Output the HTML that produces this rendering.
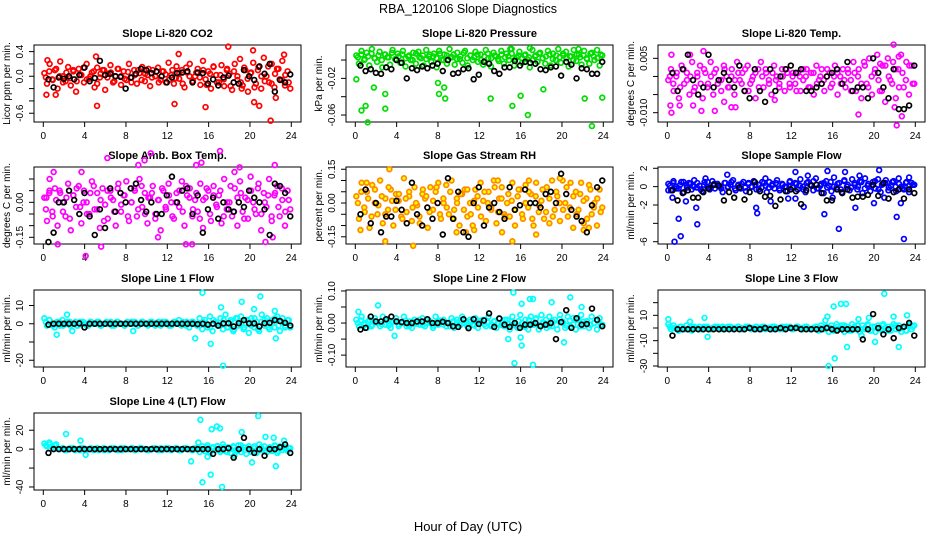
<!DOCTYPE html>
<html><head><meta charset="utf-8"><style>
html,body{margin:0;padding:0;background:#fff}
svg{display:block;font-family:"Liberation Sans",Arial,sans-serif}
</style></head><body>
<svg id="chart" width="936" height="540" viewBox="0 0 936 540" xmlns="http://www.w3.org/2000/svg">
<rect width="936" height="540" fill="#fff"/>
<text x="468" y="13" text-anchor="middle" font-size="12.5">RBA_120106  Slope Diagnostics</text>
<text x="468" y="531" text-anchor="middle" font-size="13">Hour of Day (UTC)</text>
</svg>
<script>
const xTicks=[0,4,8,12,16,20,24];
const panelTitles=["Slope Li-820 CO2","Slope Li-820 Pressure","Slope Li-820 Temp.","Slope Amb. Box Temp.","Slope Gas Stream RH","Slope Sample Flow","Slope Line 1 Flow","Slope Line 2 Flow","Slope Line 3 Flow","Slope Line 4 (LT) Flow"];

const co2Cloud=[0.05,-0.12,0.2,-0.05,0.1,-0.2,0.24,0.0,-0.08,0.15,-0.15,0.08,-0.25,0.12,0.02,-0.1,0.2,-0.04,0.06,-0.18,0.14,-0.02,0.1,-0.22,0.04,0.18,-0.1,0.0,0.12,-0.14,0.08,-0.06,0.2,-0.02,0.1,-0.12,0.05,0.15,-0.08,0.02,-0.16,0.1,0.0,0.14,-0.06,0.08,-0.1,0.22,0.02,-0.12,0.16,-0.04,0.1,-0.18,0.06,0.2,-0.08,0.0,0.12,-0.14,0.25,-0.05,0.08,-0.2,0.15,0.02,-0.1,0.18,-0.16,0.1,0.04,-0.22,0.2,-0.06,0.28,-0.15,0.1,-0.25,0.05,0.22,-0.12,0.15,-0.2,0.3,0.0,-0.1,0.2,-0.18,0.12,-0.05,0.25,-0.15,0.08,-0.2];
const co2Cloud2=[-0.02,0.08,-0.06,0.12,0.0,-0.1,0.06,-0.03,0.1,-0.08,0.03,0.14,-0.05,0.0,0.08,-0.12,0.04,0.1,-0.02,0.06,-0.08,0.12,0.0,-0.04,0.07,-0.1,0.02,0.1,-0.06,0.04,0.12,-0.02,0.0,-0.1,0.08,0.03,-0.06,0.1,-0.03,0.05,-0.12,0.14,0.0,-0.08,0.06,-0.02,0.1,-0.14,0.04,0.16,-0.1,0.02,-0.05,0.12,-0.16,0.08,0.0,-0.1,0.14,-0.04,0.06,-0.18,0.1,0.0,-0.08,0.16,-0.12,0.04,0.12,-0.06,0.02,-0.1];
const co2Out=[[0.3,-0.3],[0.4,0.26],[1.2,-0.3],[5.1,0.32],[5.2,-0.48],[12.7,-0.45],[13.1,0.36],[15.7,-0.5],[17.9,0.48],[20.3,0.42],[20.4,-0.42],[20.9,-0.48],[22.0,-0.72],[23.3,0.35],[19.2,-0.2],[22.5,-0.35]];
const co2Black=[-0.05,-0.18,-0.02,-0.04,0.0,-0.05,0.02,0.14,-0.08,-0.03,0.25,0.02,0.04,0.0,-0.01,-0.2,-0.02,0.04,0.12,0.1,0.05,0.08,0.0,-0.1,-0.02,0.05,0.06,0.08,-0.1,0.06,0.05,-0.12,-0.05,-0.15,-0.02,0.01,-0.1,-0.12,0.1,0.0,-0.06,0.16,0.04,0.2,-0.25,-0.06,-0.1,0.03];

const presCloud=[0.005,-0.004,0.01,0.0,0.008,-0.006,0.012,0.002,-0.002,0.009,-0.008,0.006,0.003,-0.005,0.011,0.001,0.007,-0.003,0.01,-0.007,0.004,0.0,0.008,-0.004,0.009,0.002,-0.006,0.011,0.004,-0.002,0.007,-0.008,0.01,0.0,0.006,-0.004,0.012,0.003,-0.005,0.008,0.001,-0.003,0.01,-0.006,0.005,0.0,0.009,-0.002,0.006,-0.005,0.011,0.002,-0.007,0.008,0.004,-0.001,0.01,-0.004,0.007,0.0,0.012,-0.006,0.003,0.009,-0.003,0.005,0.001,-0.008,0.011,0.004,-0.002,0.008,0.002,-0.004,0.01,-0.006,0.007,0.0,0.012,-0.003,0.005,0.009,-0.007,0.004,0.011,-0.001,0.006,-0.005,0.01,0.002,-0.004,0.008,0.0,0.011,-0.006,0.005];
const presCloud2=[0.003,0.006,0.001,0.004,0.007,0.002,0.005,0.0,0.006,0.003,0.008,0.001,0.004,0.006,0.002,0.005,0.0,0.007,0.003,0.005,0.001,0.006,0.004,0.002,0.007,0.0,0.005,0.003,0.006,0.001,0.004,0.008,0.002,0.005,0.003,0.006,0.0,0.004,0.007,0.002,0.005,0.001,0.006,0.003,0.004,0.007,0.001,0.005,0.002,0.006,0.003,0.0,0.005,0.007,0.002,0.004,0.006,0.001,0.005,0.003,0.007,0.002,0.004,0.0,0.006,0.003,0.005,0.001,0.007,0.004,0.002,0.006];
const presOut=[[0.1,-0.021],[0.6,-0.055],[1.0,-0.05],[1.2,-0.068],[1.8,-0.03],[2.9,-0.037],[2.9,-0.053],[8.0,-0.025],[8.1,-0.037],[8.6,-0.03],[8.7,-0.042],[13.1,-0.042],[15.2,-0.05],[16.0,-0.039],[16.7,-0.06],[18.2,-0.032],[22.2,-0.042],[22.9,-0.072],[23.9,-0.041],[16.9,0.013],[15.0,0.012],[21.6,0.012]];
const presBlack=[-0.006,-0.012,-0.01,-0.014,-0.015,-0.008,-0.01,0.0,-0.003,-0.02,-0.009,-0.011,-0.007,-0.009,-0.006,-0.004,-0.012,0.0,-0.015,-0.014,-0.01,-0.009,-0.021,-0.016,-0.002,-0.004,-0.012,-0.015,-0.008,-0.008,-0.001,-0.006,-0.002,-0.003,-0.004,-0.01,-0.011,-0.008,-0.007,-0.017,-0.002,-0.005,-0.02,-0.009,-0.01,-0.015,-0.015,-0.002];

const tempCloud=[-0.001,0.002,-0.004,0.0,-0.006,0.003,-0.002,0.001,-0.005,0.004,-0.003,0.0,0.003,-0.006,0.001,-0.002,0.004,-0.005,0.002,-0.001,-0.004,0.003,0.0,-0.003,0.002,-0.005,0.004,-0.001,0.001,-0.004,0.003,-0.002,0.0,-0.006,0.002,0.004,-0.003,0.001,-0.001,-0.005,0.003,0.0,-0.002,0.002,-0.004,0.001,-0.003,0.0,-0.002,0.001,-0.004,0.002,0.0,-0.003,0.001,-0.005,0.003,-0.001,0.002,-0.004,0.0,0.001,-0.002,0.003,-0.005,0.0,0.002,-0.003,0.001,-0.001,0.004,-0.004,0.002,-0.006,0.004,-0.002,0.005,-0.005,0.001,0.006,-0.004,0.003,-0.007,0.005,-0.001,0.004,-0.006,0.002,0.006,-0.003,0.004,-0.005,0.003,-0.002];
const tempCloud2=[0.0,-0.002,0.001,-0.003,0.002,-0.001,0.0,-0.004,0.001,-0.002,0.002,-0.003,0.0,0.001,-0.002,-0.001,0.002,-0.003,0.0,-0.001,0.001,-0.002,0.002,-0.004,-0.001,0.001,-0.003,0.0,0.002,-0.002,0.001,-0.001,-0.003,0.0,0.002,-0.002,0.001,-0.004,0.0,-0.001,0.002,-0.003,0.001,-0.002,0.0,-0.001,0.002,-0.003,0.0,0.001,-0.002,-0.001,0.002,-0.004,0.001,0.0,-0.002,0.003,-0.003,0.0,0.002,-0.001,-0.004,0.003,0.0,-0.002,0.002,-0.003,0.001,-0.001,0.003,-0.002];
const tempOut=[[0.4,0.006],[2.2,0.006],[3.5,0.007],[0.3,-0.008],[0.4,-0.01],[1.2,-0.008],[2.5,-0.008],[3.3,-0.0095],[4.6,-0.0095],[6.2,-0.0085],[6.6,-0.0085],[18.5,-0.0105],[20.6,0.0035],[21.9,0.0088],[22.2,-0.0135],[22.4,0.0055],[22.7,-0.011],[22.0,-0.0085],[5.5,-0.007],[10.4,-0.0065]];
const tempBlack=[0.001,-0.004,0.002,0.006,-0.001,-0.005,-0.003,0.006,-0.003,-0.001,0.001,-0.001,-0.003,0.003,-0.004,-0.006,0.002,-0.004,-0.007,0.002,-0.004,0.0,0.002,0.003,0.001,0.002,-0.004,-0.004,-0.003,-0.002,0.0,0.001,0.002,-0.002,0.004,-0.004,-0.003,-0.003,-0.006,0.005,0.001,-0.003,-0.006,0.002,-0.009,-0.009,-0.008,0.003];

const ambCloud=[0.02,-0.08,0.1,-0.04,0.06,-0.1,0.04,0.0,-0.06,0.08,-0.12,0.03,-0.02,0.07,-0.09,0.05,0.0,-0.05,0.09,-0.03,0.04,-0.11,0.06,-0.01,-0.07,0.05,0.01,-0.1,0.08,-0.04,0.03,0.09,-0.08,0.0,0.06,-0.06,0.1,-0.02,0.04,-0.09,0.02,0.07,-0.05,0.01,-0.12,0.05,-0.03,0.08,0.0,-0.07,0.04,-0.02,0.09,-0.1,0.03,0.06,-0.06,0.01,-0.04,0.08,-0.11,0.02,0.05,-0.08,0.07,-0.01,0.03,-0.09,0.1,-0.03,0.0,-0.06,0.06,-0.1,0.09,-0.04,0.02,-0.07,0.11,0.0,-0.05,0.08,-0.12,0.04,-0.02,0.1,-0.08,0.03,0.07,-0.06,0.01,-0.1,0.05,-0.03];
const ambCloud2=[-0.03,0.04,-0.06,0.01,0.05,-0.04,0.02,-0.07,0.03,0.06,-0.02,0.0,-0.05,0.04,0.07,-0.03,0.01,-0.08,0.05,0.02,-0.04,0.06,-0.01,0.03,-0.06,0.0,0.05,-0.03,0.07,-0.05,0.02,0.04,-0.07,0.01,0.06,-0.02,0.03,-0.06,0.0,0.05,-0.04,0.07,0.02,-0.03,0.04,-0.07,0.01,0.06,-0.05,0.03,-0.02,0.05,-0.06,0.0,0.07,-0.04,0.02,0.04,-0.07,0.01,0.05,-0.03,0.06,-0.05,0.0,0.03,-0.06,0.04,-0.02,0.06,-0.04,0.01];
const ambOut=[[0.3,0.02],[0.6,0.05],[1.0,0.13],[1.4,-0.18],[3.7,0.13],[4.1,-0.23],[5.6,-0.19],[6.2,0.19],[9.2,0.16],[9.8,0.18],[10.4,0.21],[11.1,-0.15],[14.8,0.16],[15.3,0.17],[17.1,0.22],[18.5,0.13],[19.0,0.15],[21.5,-0.17],[22.4,0.16],[22.2,-0.15],[13.8,-0.18],[14.4,-0.18]];
const ambBlack=[-0.17,-0.13,0.0,0.0,0.05,0.01,-0.05,0.04,-0.06,-0.14,-0.03,-0.11,0.06,-0.04,0.04,0.0,0.06,0.08,0.01,-0.04,0.0,-0.05,-0.05,0.03,0.11,0.0,0.05,0.06,-0.05,0.03,-0.13,-0.03,0.02,-0.07,0.0,-0.03,-0.04,0.0,-0.02,0.05,0.02,0.0,-0.03,-0.14,0.08,0.07,0.04,-0.06];

const rhCloud=[0.03,-0.07,0.09,-0.02,0.05,-0.11,0.08,0.0,-0.05,0.1,-0.09,0.02,-0.03,0.06,-0.1,0.04,0.01,-0.06,0.11,-0.04,0.03,-0.08,0.07,-0.01,-0.09,0.04,0.02,-0.11,0.07,-0.03,0.05,0.09,-0.07,0.0,0.08,-0.05,0.1,-0.03,0.02,-0.1,0.04,0.06,-0.06,0.0,-0.1,0.06,-0.02,0.09,0.01,-0.08,0.05,-0.03,0.1,-0.09,0.02,0.07,-0.05,0.0,-0.06,0.09,-0.1,0.03,0.06,-0.07,0.08,-0.02,0.04,-0.1,0.09,-0.04,0.01,-0.07,0.07,-0.09,0.1,-0.03,0.03,-0.08,0.1,0.0,-0.06,0.09,-0.11,0.05,-0.03,0.09,-0.09,0.02,0.08,-0.05,0.0,-0.1,0.06,-0.02];
const rhCloud2=[0.0,0.05,-0.04,0.02,-0.06,0.06,-0.01,0.03,-0.05,0.07,0.01,-0.03,0.04,-0.07,0.02,0.05,-0.02,0.0,-0.06,0.06,0.03,-0.04,0.01,0.07,-0.05,0.02,-0.02,0.05,-0.07,0.0,0.04,-0.03,0.06,-0.05,0.01,0.03,-0.06,0.05,0.0,-0.02,0.07,-0.04,0.02,-0.06,0.04,0.01,-0.03,0.06,-0.05,0.0,0.05,-0.07,0.03,-0.01,0.06,-0.04,0.02,-0.06,0.05,0.0,-0.03,0.07,-0.02,0.03,-0.05,0.04,0.01,-0.07,0.06,-0.02,0.02,-0.04];
const rhOut=[[0.5,-0.12],[1.1,0.09],[2.9,-0.17],[3.3,0.15],[5.6,-0.19],[9.8,-0.13],[10.7,-0.13],[11.5,-0.12],[13.8,0.1],[14.2,-0.13],[15.2,-0.17],[16.8,0.1],[17.5,-0.14],[19.8,0.11],[22.1,-0.12],[22.6,-0.11]];
const rhBlack=[-0.05,0.06,-0.09,0.0,-0.13,-0.06,-0.06,0.01,-0.03,-0.09,0.09,-0.05,-0.1,-0.02,-0.07,0.0,-0.14,0.11,-0.07,0.05,-0.13,-0.15,0.0,0.07,-0.1,-0.02,0.0,-0.04,-0.07,0.07,-0.03,-0.01,0.06,0.0,0.0,-0.02,0.04,0.05,0.0,0.13,0.04,-0.03,-0.06,-0.08,-0.13,-0.01,0.07,0.10];

const flowCloud=[0.3,-0.4,0.6,0.0,-0.2,0.5,-0.6,0.2,0.4,-0.3,0.7,-0.1,0.1,-0.5,0.5,0.0,-0.3,0.6,-0.2,0.3,0.0,-0.6,0.4,-0.1,0.2,0.7,-0.4,0.1,-0.2,0.5,-0.5,0.3,0.0,0.6,-0.3,0.2,-0.1,0.4,-0.6,0.5,0.1,-0.2,0.7,-0.4,0.3,0.0,-0.5,0.6,-0.1,0.4,-0.3,0.8,0.0,-0.6,0.5,0.2,-0.4,0.9,-0.2,0.3,-0.7,0.6,0.1,-0.5,1.0,-0.1,0.4,-0.6,0.7,0.0,-0.4,0.8,0.2,-0.3,0.6,-0.7,0.9,0.1,-0.5,0.5,-0.2,0.8,-0.6,0.3,0.7,-0.4,0.1,0.6,-0.5,0.9,0.0,-0.3,0.5,-0.6,0.4,0.2];
const flowCloud2=[0.1,0.4,-0.2,0.2,0.5,-0.1,0.3,0.0,0.4,-0.3,0.2,0.5,-0.1,0.3,0.1,-0.2,0.4,0.0,0.5,-0.2,0.2,0.3,-0.1,0.4,0.0,0.2,-0.3,0.5,0.1,-0.1,0.3,0.4,-0.2,0.2,0.0,0.5,-0.1,0.3,0.1,-0.3,0.4,0.2,0.6,-0.2,0.1,0.4,-0.1,0.5,0.0,0.3,-0.3,0.6,0.2,-0.1,0.4,0.0,0.5,-0.2,0.3,0.1,0.6,-0.3,0.2,0.4,-0.1,0.5,0.0,0.3,-0.2,0.4,0.1,0.2];
const flowOut=[[0.1,-0.4],[0.5,-1.2],[0.7,-6.0],[1.1,-3.5],[1.3,-5.4],[1.8,-1.6],[2.8,-2.3],[2.9,-4.1],[3.7,0.9],[5.8,1.3],[8.6,-2.3],[8.7,-2.9],[9.5,0.9],[10.0,-1.6],[11.7,-1.3],[12.4,-1.3],[12.4,1.6],[13.2,-2.2],[13.6,1.2],[15.2,-3.0],[15.5,1.7],[16.0,-1.2],[16.6,-4.6],[17.2,1.6],[18.2,-2.3],[18.6,1.2],[20.0,-1.8],[20.5,1.8],[21.0,-1.2],[22.2,-3.3],[22.6,-1.8],[22.9,-5.7],[23.4,1.0]];
const flowBlack=[-0.4,-1.5,-0.7,-0.4,-1.2,-1.2,-0.6,-0.2,0.2,0.1,-1.5,-0.6,-1.2,-0.1,-1.4,-0.6,0.5,-0.5,-1.1,-1.0,-2.1,-1.4,-0.5,-0.3,-0.5,-1.9,-0.4,0.1,0.2,-0.7,-1.5,-1.5,-0.3,-0.7,-0.3,-1.2,-1.1,-1.1,-0.9,0.2,-1.0,0.4,-1.3,-0.6,-0.3,-1.3,-0.3,-0.7];

const l1Cloud=[3,-1,2,0,-2,1,-1,2,0,1,-1,0,1,-1,0,1,0,-1,1,0,0,1,-1,0,1,0,-1,0,1,0,0,-1,1,0,0,1,-1,0,1,0,-1,1,0,0,1,-1,0,1,0,-1,1,0,2,-1,0,1,-2,1,0,-1,3,-3,2,-2,4,-4,1,-1,3,-3,5,-2,2,-4,3,-1,4,-3,2,-5,3,-2,1,-4,5,-1,3,-3,2,-2,4,-4,3,-1,2,-2];
const l1Cloud2=[1,2,-1,0,1,-1,0,1,0,-1,1,0,-1,1,0,1,-1,0,0,1,-1,1,0,-1,0,1,0,-1,1,0,0,1,-1,0,1,0,-1,0,1,0,1,-1,0,1,0,-1,1,0,-2,2,0,-1,2,-2,1,-3,3,0,-2,2,-1,3,-3,1,2,-2,0,3,-1,1,-2,2];
const l1Out=[[1.3,-6],[2.3,5],[2.8,-4],[8.7,-4],[14.7,-8],[15.4,17],[16.2,-11],[17.2,9],[17.4,-23],[19.2,12],[21.0,15],[20.4,8],[22.4,7],[22.5,-8],[18.4,-4]];
const l1Black=[-0.5,0,0,0,0,0,0.2,-2,0,0,0,0,0,0,0,0,0,0,0,0,0,0,0,0,0,0,0,0,0,-0.2,0,-0.5,0,-1,0.2,0.3,-1.5,0.3,2,0.2,0.2,-1.5,0.3,0.5,2,1.5,0.5,-1];

const l2Cloud=[0.01,-0.01,0.02,0.0,-0.015,0.01,-0.005,0.015,0.0,-0.01,0.02,-0.005,0.01,-0.015,0.005,0.015,-0.01,0.0,0.02,-0.01,0.005,-0.015,0.01,0.0,-0.005,0.015,-0.01,0.01,0.0,-0.015,0.02,-0.005,0.005,0.01,-0.01,0.0,0.015,-0.015,0.01,-0.005,0.02,0.0,-0.01,0.01,-0.005,0.015,-0.015,0.0,0.01,-0.01,0.02,-0.005,0.005,-0.015,0.015,0.0,-0.01,0.01,-0.02,0.02,0.0,-0.015,0.025,-0.01,0.01,-0.02,0.02,-0.005,0.015,-0.02,0.025,0.0,-0.015,0.02,-0.01,0.01,-0.02,0.025,0.005,-0.015,0.02,-0.01,0.015,-0.02,0.01,0.025,-0.01,0.005,-0.015,0.02,0.0,-0.02,0.015,-0.005];
const l2Cloud2=[0.0,0.008,-0.006,0.004,-0.01,0.006,0.0,-0.004,0.01,-0.008,0.002,0.006,-0.004,0.0,0.008,-0.01,0.004,-0.002,0.01,-0.006,0.0,0.006,-0.008,0.002,0.008,-0.004,0.0,-0.01,0.006,0.002,-0.006,0.01,-0.002,0.004,-0.008,0.0,0.008,-0.004,0.002,-0.01,0.006,0.0,-0.006,0.01,-0.002,0.004,-0.008,0.006,0.0,-0.012,0.01,-0.004,0.012,-0.008,0.002,0.01,-0.01,0.004,-0.006,0.012,0.0,-0.008,0.008,-0.004,0.01,-0.01,0.004,0.006,-0.006,0.0,0.008,-0.004];
const l2Out=[[0.3,0.035],[2.2,0.055],[3.8,-0.04],[14.8,-0.05],[15.3,0.095],[15.4,-0.125],[16.1,0.06],[16.0,-0.045],[16.1,-0.07],[16.9,0.075],[17.2,0.075],[17.2,-0.13],[19.0,0.065],[20.2,-0.06],[20.8,0.08],[21.9,0.05]];
const l2Black=[-0.02,-0.015,0.02,0.005,0.005,0.012,0.02,0.005,0.003,0.0,0.0,0.005,0.005,0.012,0.0,0.0,0.004,0.0,-0.01,-0.012,0.012,-0.016,0.012,-0.003,0.008,0.03,-0.012,0.014,-0.005,-0.012,0.0,-0.015,-0.005,-0.005,0.0,-0.01,-0.005,0.0,-0.05,0.003,0.04,-0.015,0.015,-0.005,-0.003,0.045,0.01,-0.01];

const l3Cloud=[3,-1,2,0,-2,1,-1,2,0,-2,1,0,1,-1,0,1,-1,0,1,0,-1,1,0,0,1,-1,0,1,0,-1,1,0,-1,0,1,0,-1,1,0,0,-1,1,0,-1,1,0,0,1,-1,0,1,0,-1,1,0,-1,0,1,-2,2,-1,1,-3,2,-2,3,-1,2,-3,1,-2,3,-1,2,-3,2,-1,3,-2,1,-3,2,-1,3,-2,1,-2,3,-1,2,-3,1,-2,3,-1,2];
const l3Cloud2=[1,0,-1,1,0,-1,1,0,0,-1,1,0,-1,0,1,0,-1,1,0,0,1,-1,0,1,0,-1,0,1,-1,0,1,0,0,-1,1,0,-1,1,0,0,1,-1,0,1,0,-1,1,0,-2,1,0,2,-1,-2,1,2,-1,0,2,-2,1,-1,2,0,-2,1,2,-1,0,-2,2,1];
const l3Out=[[0.1,7],[2.2,5],[3.6,8],[3.9,-7],[15.3,6],[15.5,9],[16.1,17],[16.8,19],[17.3,19],[17.4,-15],[16.2,-24],[15.6,-30],[18.5,7],[19.5,8],[20.1,-11],[21.0,27],[21.9,9],[22.4,-15],[23.2,10],[18.8,-6],[20.8,-2]];
const l3Black=[-6,-1,-1,-1,-1,-1,-1,-1,-1,-1,-1,-1,-1,-1,-1,0,-1,-1,0,-1,-1,0,-1,0,0,-1,-1,-1,-1,-1,0,-1,-2,-1,-1,-1,-1,-9,-1,11,0,-5,-1,-8,0,1,4,-6];

const l4Cloud=[6,3,5,2,4,1,0,1,-1,0,1,0,-1,0,1,0,-1,0,1,0,0,-1,0,1,0,-1,0,1,0,0,-1,1,0,0,1,-1,0,1,0,0,-1,0,1,0,-1,1,0,0,1,-1,0,1,0,-1,1,0,0,-1,1,0,-3,3,-2,4,-4,2,-1,3,-3,5,-2,2,-4,3,-1,4,-3,2,-5,3,-2,1,-4,5,-1,3,-3,2,-2,4,-4,3,-1,2,-2,1];
const l4Cloud2=[4,7,2,5,0,1,-1,0,1,0,-1,1,0,0,-1,1,0,-1,0,1,0,-1,1,0,0,1,-1,0,1,0,-1,0,1,0,-1,1,0,0,1,-1,0,1,0,-1,1,0,0,2,-2,1,3,-1,2,-3,0,2,-2,4,-1,1,-3,3,0,2,-2,1,-1,3,-2,2,0,1];
const l4Out=[[2.2,16],[3.6,9],[4.1,-6],[14.3,-13],[15.2,31],[15.4,-35],[15.9,-8],[16.2,-27],[16.3,21],[16.8,24],[17.1,22],[17.3,-40],[18.5,-7],[19.2,18],[20.2,-14],[20.8,35],[21.5,13],[22.3,12],[22.5,-18],[23.3,9],[15.0,7]];
const l4Black=[-4,0,0,0,0,0,0,0,0,0,0,0,0,0,0,0,0,0,0,0,0,0,0,0,0,0,0,0,0,0,0,0,-5,0,0,1,-9,0,12,0,-4,0,-7,0,0,2,5,-4];

const yAxisTitles=["Licor ppm per min.","kPa per min.","degrees C per min.","degrees C per min.","percent per min.","ml/min per min.","ml/min per min.","ml/min per min.","ml/min per min.","ml/min per min."];
const yDomains=[[-0.742,0.507],[-0.0676,0.0164],[-0.01257,0.00868],[-0.1787,0.1515],[-0.182,0.160],[-6.25,2.14],[-23.7,18.5],[-0.137,0.103],[-30.8,30],[-43.2,38.2]];
const yTickVals=[[-0.6,-0.4,-0.2,0,0.2,0.4],[-0.06,-0.04,-0.02,0],[-0.01,-0.005,0,0.005],[-0.15,-0.1,-0.05,0,0.05,0.1],[-0.15,-0.1,-0.05,0,0.05,0.1,0.15],[-6,-4,-2,0,2],[-20,-10,0,10],[-0.1,-0.05,0,0.05,0.1],[-30,-20,-10,0,10,20],[-40,-20,0,20]];
const yTickLabels=[["-0.6","","","0.0","","0.4"],["-0.06","","-0.02",""],["-0.010","","","0.005"],["-0.15","","","0.00","",""],["-0.15","","","0.00","","","0.15"],["-6","","-2","0","2"],["-20","","0","10"],["-0.10","","0.00","","0.10"],["-30","","-10","","10",""],["-40","","0","20"]];

const clouds=[co2Cloud,presCloud,tempCloud,ambCloud,rhCloud,flowCloud,l1Cloud,l2Cloud,l3Cloud,l4Cloud];
const clouds2=[co2Cloud2,presCloud2,tempCloud2,ambCloud2,rhCloud2,flowCloud2,l1Cloud2,l2Cloud2,l3Cloud2,l4Cloud2];
const outliers=[co2Out,presOut,tempOut,ambOut,rhOut,flowOut,l1Out,l2Out,l3Out,l4Out];
const blacks=[co2Black,presBlack,tempBlack,ambBlack,rhBlack,flowBlack,l1Black,l2Black,l3Black,l4Black];
const colors=["#ff0000","#00dd00","#ff00ff","#ff00ff","#ff8c00","#0000ff","#00ffff","#00ffff","#00ffff","#00ffff"];
const fills=["none","none","none","none","#ffff00","none","none","none","none","none"];

const NS="http://www.w3.org/2000/svg";
const svg=document.getElementById("chart");
function mk(tag,attrs,parent){const e=document.createElementNS(NS,tag);for(const k in attrs)e.setAttribute(k,attrs[k]);(parent||svg).appendChild(e);return e;}
const colLefts=[34,346,658], rowTops=[45,167,290,413], W=267, H=77;

for(let p=0;p<10;p++){
  const L=colLefts[p%3], T=rowTops[Math.floor(p/3)], R=L+W, B=T+H;
  const g=mk("g",{});
  
  
  const x=v=>L+9.3+(v/24)*(W-19);
  const [y0,y1]=yDomains[p];
  const y=v=>B-(v-y0)/(y1-y0)*H;
  const t=mk("text",{x:(L+R)/2,y:T-8,"text-anchor":"middle","font-size":"11","font-weight":"bold"},g);
  
  
  t.textContent=panelTitles[p];
  const box=mk("rect",{x:L,y:T,width:W,height:H,fill:"none",stroke:"#000","stroke-width":"1"},g);
  
  
  xTicks.forEach(v=>{
    mk("line",{x1:x(v),x2:x(v),y1:B,y2:B+5,stroke:"#000"},g);
    const tl=mk("text",{x:x(v),y:B+17,"text-anchor":"middle","font-size":"10"},g);
    
    
    tl.textContent=v;
  });
  yTickVals[p].forEach((v,i)=>{
    mk("line",{x1:L-5,x2:L,y1:y(v),y2:y(v),stroke:"#000"},g);
    if(yTickLabels[p][i]){
      const yl=mk("text",{x:0,y:0,"text-anchor":"middle","font-size":"10",transform:`translate(${L-11},${y(v)}) rotate(-90)`},g);
      
      
      yl.textContent=yTickLabels[p][i];
    }
  });
  const yt=mk("text",{x:0,y:0,"text-anchor":"middle","font-size":"10",transform:`translate(${L-24},${(T+B)/2}) rotate(-90)`},g);
  
  
  yt.textContent=yAxisTitles[p];
  const pts=mk("g",{stroke:colors[p],fill:fills[p],"stroke-width":"1.7"},g);
  
  
  const cl=clouds[p], n=cl.length;
  cl.forEach((v,i)=>{
    const tt=0.1+i*23.8/(n-1);
    const c=mk("circle",{cx:x(tt),cy:y(v),r:2.4},pts);
    
    
  });
  const cl2=clouds2[p], n2=cl2.length;
  cl2.forEach((v,i)=>{
    const tt=0.25+i*23.5/(n2-1);
    const c=mk("circle",{cx:x(tt),cy:y(v),r:2.4},pts);
    
    
  });
  outliers[p].forEach(d=>{
    const c=mk("circle",{cx:x(d[0]),cy:y(d[1]),r:2.4},pts);
    
    
  });
  const bk=mk("g",{stroke:"#000",fill:"none","stroke-width":"1.7"},g);
  
  
  const bl=blacks[p];
  bl.forEach((v,i)=>{
    const tt=0.5+i*23.4/(bl.length-1);
    const c=mk("circle",{cx:x(tt),cy:y(v),r:2.4},bk);
    
    
  });
}
</script>
</body></html>
